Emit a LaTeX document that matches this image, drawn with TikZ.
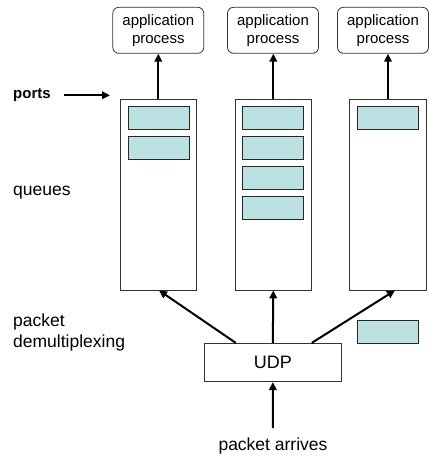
\documentclass[tikz,border=0pt]{standalone}
\usepackage{fontspec}
\setmainfont{Liberation Sans}
\usetikzlibrary{arrows.meta}
\definecolor{slotcyan}{HTML}{BCE1E3}
\tikzset{
  appbox/.style={draw=black!80, line width=0.8pt, rounded corners=6pt, minimum width=91pt,
    minimum height=46pt, align=center, font=\fontsize{15}{18}\selectfont, inner sep=0pt},
  queuebox/.style={draw=black!80, line width=0.8pt, minimum width=76.7pt, minimum height=191pt, inner sep=0pt},
  slotbox/.style={draw=black!85, line width=0.8pt, fill=slotcyan, minimum width=61.7pt,
    minimum height=22.7pt, inner sep=0pt},
  lbl/.style={font=\fontsize{17.5}{21}\selectfont, align=left, inner sep=0pt},
  flow/.style={line width=2pt, -{Triangle[length=8pt,width=7.5pt]}}
}
\begin{document}
\begin{tikzpicture}[x=1pt,y=-1pt]
  \useasboundingbox (0,0) rectangle (429,459);
  % Application processes
  \node[appbox] (app1) at (158.3,30.3) {application\\process};
  \node[appbox] (app2) at (273,30.3) {application\\process};
  \node[appbox] (app3) at (383,30.3) {application\\process};
  % Queues
  \foreach \col/\xc in {1/158.3, 2/273.3, 3/388} {
    \node[queuebox] (q\col) at (\xc,194.5) {};
  }
  % Slots in the queues
  \foreach \col/\xc/\n in {1/158.8/2, 2/273/4, 3/387.8/1} {
    \foreach \k in {1,...,\n} {
      \node[slotbox] (s\col\k) at (\xc,{118+30*(\k-1)}) {};
    }
  }
  % Queue to process
  \foreach \col in {1,2,3} {
    \draw[flow] (q\col.north) -- (q\col.north |- app\col.south);
  }
  % UDP and the packet on its way
  \node[queuebox, minimum width=137.7pt, minimum height=38.4pt, font=\fontsize{18}{21}\selectfont]
    (udp) at (272.8,362.5) {UDP};
  \node[slotbox] (pkt) at (387.8,332) {};
  \draw[flow] ([xshift=-37pt]udp.north) -- ([xshift=0.7pt]q1.south);
  \draw[flow] (udp.north) -- (q2.south);
  \draw[flow] ([xshift=39pt]udp.north) -- ([xshift=7pt]q3.south);
  % Arriving packet
  \coordinate (in) at (273,428);
  \draw[flow] (in) -- (udp.south);
  \node[lbl] (arrives) at (273,446) {packet arrives};
  % Left labels
  \node[lbl, anchor=west, font=\fontsize{15}{18}\selectfont\bfseries] (ports) at (13,95.3) {ports};
  \coordinate (portend) at (110,95.3);
  \draw[flow] ([xshift=13pt]ports.east) -- (portend);
  \node[lbl, anchor=west] (queues) at (13,192.7) {queues};
  \node[lbl, anchor=west] (demux) at (13,332.5) {packet\\demultiplexing};
\end{tikzpicture}
\end{document}
